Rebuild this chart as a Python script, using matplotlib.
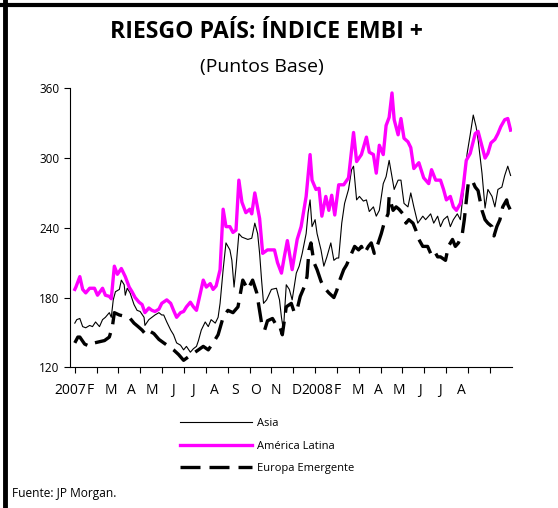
import matplotlib
matplotlib.use("Agg")
import matplotlib.pyplot as plt
from matplotlib.lines import Line2D
import numpy as np

plt.rcParams['font.family'] = ["Open Sans", "DejaVu Sans"]

title = "RIESGO PAÍS: ÍNDICE EMBI +"
subtitle = "(Puntos Base)"
source = "Fuente: JP Morgan."
month_labels = ["2007", "F", "M", "A", "M", "J", "J", "A", "S", "O", "N", "D",
                "2008", "F", "M", "A", "M", "J", "J", "A"]
y_ticks = [120, 180, 240, 300, 360]
series_names = ["Asia", "América Latina", "Europa Emergente"]

# x values: months elapsed since 1 Jan 2007
asia_x = [0.00, 0.09, 0.23, 0.36, 0.50, 0.68, 0.81, 0.95, 1.13, 1.27, 1.40, 1.58, 1.67, 1.76, 1.86,
          2.04, 2.13, 2.26, 2.31, 2.40, 2.53, 2.71, 2.85, 2.99, 3.17, 3.21, 3.39, 3.53, 3.67, 3.85,
          3.98, 4.07, 4.21, 4.39, 4.52, 4.66, 4.84, 4.98, 5.11, 5.29, 5.43, 5.57, 5.66, 5.79, 5.97,
          6.11, 6.24, 6.43, 6.56, 6.65, 6.79, 6.92, 7.10, 7.19, 7.29, 7.38, 7.51, 7.65, 7.78, 7.92,
          8.10, 8.24, 8.37, 8.46, 8.55, 8.64, 8.78, 9.00, 9.23, 9.37, 9.46, 9.55, 9.68, 9.82, 9.95,
          10.14, 10.27, 10.41, 10.59, 10.68, 10.77, 10.86, 11.00, 11.09, 11.27, 11.40, 11.54, 11.72,
          11.86, 11.99, 12.08, 12.22, 12.35, 12.53, 12.67, 12.76, 12.90, 13.03, 13.21, 13.35, 13.48,
          13.67, 13.80, 13.94, 14.12, 14.25, 14.39, 14.52, 14.62, 14.80, 14.93, 15.07, 15.25, 15.38,
          15.52, 15.70, 15.93, 16.06, 16.29, 16.43, 16.61, 16.74, 16.88, 17.06, 17.19, 17.33, 17.51,
          17.65, 17.78, 17.96, 18.10, 18.24, 18.37, 18.46, 18.64, 18.78, 18.91, 19.10, 19.23, 19.37,
          19.55, 19.68, 19.82, 19.95]
asia_y = [158, 161, 162, 155, 154, 156, 155, 159, 155, 161, 163, 167, 163, 178, 185,
          187, 195, 191, 182, 188, 184, 174, 169, 168, 163, 156, 161, 163, 165, 167,
          165, 165, 159, 152, 148, 141, 139, 135, 138, 133, 136, 138, 143, 152, 159,
          155, 161, 158, 163, 175, 204, 227, 221, 212, 189, 206, 235, 232, 231, 230,
          231, 244, 235, 218, 195, 175, 178, 187, 188, 178, 163, 152, 191, 187, 178,
          201, 207, 218, 235, 253, 264, 241, 247, 235, 221, 207, 215, 227,
          212, 214, 214, 244, 261, 273, 290, 293, 264, 267, 263, 264, 254,
          258, 250, 255, 278, 284, 298, 284, 273, 281, 281, 261, 258, 270,
          258, 244, 250, 247, 252, 244, 250, 241, 247, 250, 241, 247, 252,
          247, 270, 304, 320, 337, 327, 316, 287, 257, 273, 267, 258, 273,
          275, 285, 293, 285]

latam_x = [0.00, 0.05, 0.23, 0.36, 0.50, 0.68, 0.90, 1.04, 1.27, 1.40, 1.58, 1.67, 1.81, 1.95, 2.13,
           2.31, 2.49, 2.62, 2.76, 2.94, 3.08, 3.21, 3.39, 3.53, 3.67, 3.85, 3.98, 4.21, 4.39, 4.52,
           4.66, 4.84, 4.98, 5.11, 5.29, 5.43, 5.57, 5.75, 5.88, 6.02, 6.20, 6.33, 6.47, 6.65, 6.79,
           6.92, 7.10, 7.24, 7.38, 7.51, 7.65, 7.83, 8.01, 8.10, 8.24, 8.46, 8.60, 8.82, 9.14, 9.28,
           9.46, 9.59, 9.73, 9.95, 10.18, 10.36, 10.59, 10.77, 10.86, 11.04, 11.18, 11.31, 11.49,
           11.63, 11.76, 11.90, 12.08, 12.31, 12.53, 12.76, 12.90, 13.12, 13.35, 13.48, 13.67, 13.80,
           13.94, 14.12, 14.25, 14.39, 14.52, 14.62, 14.80, 14.93, 15.07, 15.25, 15.38, 15.52, 15.75,
           15.97, 16.20, 16.33, 16.52, 16.74, 16.88, 17.01, 17.19, 17.33, 17.47, 17.65, 17.78, 17.92,
           18.10, 18.33, 18.46, 18.60, 18.78, 18.91, 19.05, 19.23, 19.37, 19.50, 19.68, 19.82, 19.95]
latam_y = [187, 189, 198, 187, 184, 188, 188, 182, 188, 182, 181, 179, 207, 200, 205,
           198, 189, 185, 180, 176, 174, 167, 171, 169, 168, 170, 175, 178, 175, 169,
           163, 167, 168, 172, 176, 172, 169, 184, 195, 189, 192, 187, 190, 204, 256,
           241, 241, 236, 238, 281, 262, 253, 256, 252, 270, 248, 218, 221, 221, 210,
           201, 215, 229, 204, 230, 241, 267, 303, 281, 273, 274, 250, 267,
           255, 268, 251, 277, 277, 283, 322, 297, 303, 318, 305, 303, 287,
           311, 303, 328, 335, 356, 333, 320, 334, 317, 314, 309, 291, 296,
           283, 278, 290, 281, 281, 273, 264, 267, 258, 255, 261, 275, 298,
           304, 321, 323, 313, 300, 304, 313, 316, 321, 327, 333, 334, 324]

europe_x = [0.00, 0.14, 0.23, 0.45, 0.68, 0.90, 1.13, 1.36, 1.58, 1.72, 1.81, 2.04, 2.26, 2.49,
            2.71, 2.90, 3.08, 3.26, 3.44, 3.62, 3.85, 4.07, 4.30, 4.52, 4.75, 4.98, 5.20, 5.43,
            5.66, 5.88, 6.11, 6.33, 6.56, 6.79, 7.01, 7.24, 7.47, 7.69, 7.92, 8.14, 8.33, 8.55,
            8.69, 8.82, 9.05, 9.23, 9.37, 9.50, 9.68, 9.91, 10.05, 10.18, 10.32, 10.50, 10.63,
            10.72, 10.81, 10.95, 11.09, 11.27, 11.40, 11.63, 11.86, 11.99, 12.13, 12.31, 12.44,
            12.67, 12.81, 12.99, 13.12, 13.26, 13.44, 13.57, 13.71, 13.89, 14.03, 14.16, 14.34,
            14.39, 14.57, 14.71, 14.84, 15.02, 15.16, 15.29, 15.48, 15.61, 15.75, 15.93, 16.15,
            16.29, 16.43, 16.61, 16.74, 16.97, 17.10, 17.29, 17.42, 17.56, 17.74, 17.83, 17.96,
            18.01, 18.19, 18.33, 18.46, 18.64, 18.78, 18.91, 19.10, 19.19, 19.32, 19.46, 19.59,
            19.77, 19.82, 19.95]
europe_y = [141, 146, 146, 140, 138, 141, 142, 143, 146, 155, 167, 165, 164, 163,
            158, 155, 152, 148, 151, 149, 144, 141, 138, 135, 131, 126, 129, 132,
            135, 138, 135, 141, 148, 163, 169, 167, 172, 195, 187, 195, 184, 158,
            152, 160, 162, 156, 156, 148, 172, 175, 167, 170, 181, 189, 198,
            221, 227, 210, 204, 194, 189, 184, 180, 186, 195, 204, 208,
            218, 224, 221, 224, 218, 224, 227, 218, 227, 235, 244, 252,
            267, 255, 258, 256, 252, 244, 247, 244, 238, 230, 224, 224,
            218, 221, 215, 215, 212, 224, 230, 224, 227, 235, 247, 270,
            278, 281, 275, 272, 255, 247, 244, 241, 233, 241, 247, 258,
            264, 260, 255]

assert len(asia_x) == len(asia_y), (len(asia_x), len(asia_y))
assert len(latam_x) == len(latam_y), (len(latam_x), len(latam_y))
assert len(europe_x) == len(europe_y), (len(europe_x), len(europe_y))

W, H = 558, 508
fig = plt.figure(figsize=(W / 100, H / 100), dpi=100)
ax = fig.add_axes([70 / W, 1 - 367.3 / H, (511.7 - 70) / W, (367.3 - 88.3) / H])

ax.plot(asia_x, asia_y, color="black", lw=0.8, label=series_names[0])
ax.plot(latam_x, latam_y, color="#ff00ff", lw=2.4, label=series_names[1])
ax.plot(europe_x, europe_y, color="black", lw=2.4, dashes=(6, 2.7), label=series_names[2])

ax.set_xlim(0, 20)
ax.set_ylim(120, 360)
for s in ["top", "right"]:
    ax.spines[s].set_visible(False)
for s in ["left", "bottom"]:
    ax.spines[s].set_linewidth(0.8)

ax.set_yticks(y_ticks)
ax.tick_params(axis="y", direction="out", length=4.5, width=0.8, labelsize=8.5, pad=3)

label_pos = -0.22 + 0.942 * np.arange(len(month_labels))
ax.set_xticks(label_pos)
ax.set_xticklabels(month_labels)
ax.tick_params(axis="x", which="major", length=0, labelsize=10, pad=11)
ax.set_xticks(np.arange(0, 20), minor=True)
ax.tick_params(axis="x", which="minor", direction="out", length=4.5, width=0.8)

fig.legend(loc="upper left", bbox_to_anchor=(180 / W, 1 - 418 / H), frameon=False,
           fontsize=8, handlelength=6.5, handletextpad=0.4, labelspacing=1.05,
           borderpad=0, borderaxespad=0)

fig.text(266 / W, 1 - 32.5 / H, title, ha="center", va="center", fontsize=16.6, weight="bold")
fig.text(262 / W, 1 - 67 / H, subtitle, ha="center", va="center", fontsize=14)
fig.text(12 / W, 1 - 494 / H, source, ha="left", va="center", fontsize=8.6)

fig.add_artist(Line2D([0, 1], [1 - 5 / H, 1 - 5 / H], color="black", lw=3,
                      transform=fig.transFigure))
fig.add_artist(Line2D([5 / W, 5 / W], [0, 1], color="black", lw=3.5,
                      transform=fig.transFigure))

fig.savefig("out.png", dpi=100)
